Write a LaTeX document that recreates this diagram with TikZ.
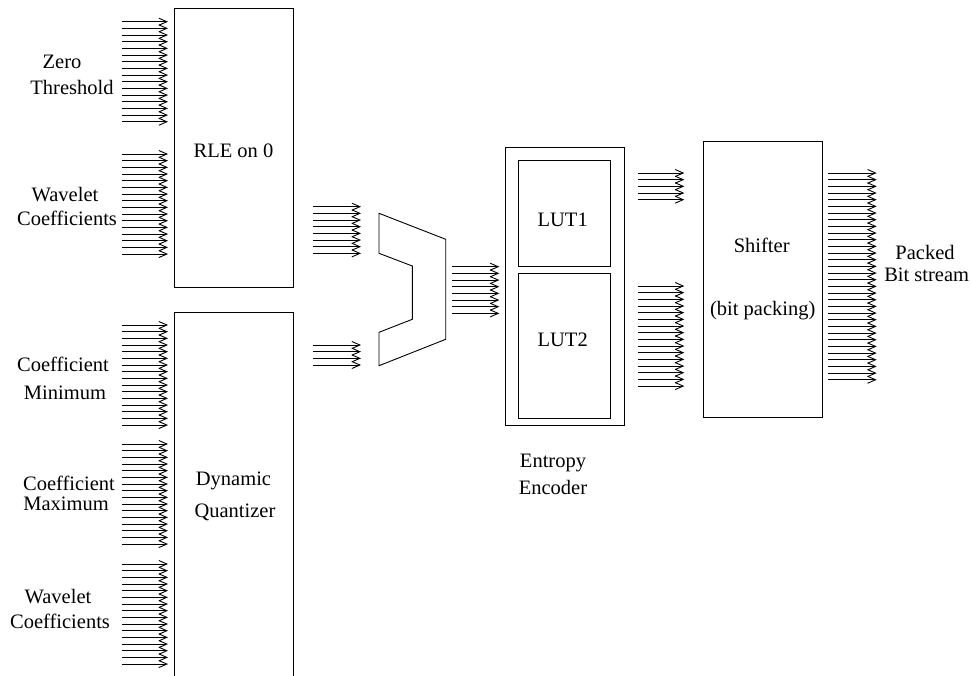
\documentclass[tikz,border=0pt]{standalone}
\usepackage{fontspec}
\setmainfont{Liberation Serif}
\usetikzlibrary{arrows.meta}
\tikzset{
  bus/.style={-{Straight Barb[length=8pt,width=7pt]}, line width=0.9pt},
  blk/.style={draw, line width=0.9pt, inner sep=0pt, outer sep=0pt},
  lbl/.style={anchor=base, inner sep=0pt, font=\fontsize{20.5}{24}\selectfont},
}
\newcommand\busarrows[4]{%
  \foreach \i in {1,...,#4} {\draw[bus] (#1,{#3+(\i-1)*6.67}) -- (#2,{#3+(\i-1)*6.67});}}
\begin{document}
\begin{tikzpicture}[x=1pt,y=-1pt]
\useasboundingbox (0,0) rectangle (971,675);
\clip (0,0) rectangle (971,675);
% blocks
\node[blk, minimum width=119pt, minimum height=278.7pt] (rle) at (233.5,147.65) {};
\node[blk, minimum width=119pt, minimum height=387.3pt] (dq) at (233.5,506.35) {};
\node[blk, minimum width=119.3pt, minimum height=277.7pt] (ent) at (564.65,286.15) {};
\node[blk, minimum width=92.4pt, minimum height=105.6pt] (lut1) at (564.5,213.5) {};
\node[blk, minimum width=92.4pt, minimum height=145pt] (lut2) at (564.5,345.8) {};
\node[blk, minimum width=119pt, minimum height=276.3pt] (shf) at (762.8,279.15) {};
% multiplexer
\coordinate (mux) at (412,289.5);
\draw[line width=0.9pt] (379,213.3) -- (445.7,239.3) -- (445.7,339.3) -- (379,365.7)
  -- (379,332.3) -- (412.3,319.3) -- (412.3,266) -- (379,253.3) -- cycle;
% buses
\busarrows{121.7}{168}{21.7}{16}
\busarrows{121.7}{168}{154}{16}
\busarrows{121.7}{168}{325}{16}
\busarrows{121.7}{168}{444}{16}
\busarrows{121.7}{168}{564}{16}
\busarrows{313}{361}{206.7}{8}
\busarrows{313}{361}{345}{4}
\busarrows{452.3}{499.3}{266.7}{8}
\busarrows{637.7}{684.3}{173}{5}
\busarrows{637.7}{684.3}{286}{16}
\busarrows{828.3}{876.7}{173}{32}
% labels
\node[lbl] (t1) at (62,68.3) {Zero};
\node[lbl] (t2) at (72,94) {Threshold};
\node[lbl] (t3) at (65,201.5) {Wavelet};
\node[lbl] (t4) at (67,225.5) {Coefficients};
\node[lbl] (t5) at (63,371.7) {Coefficient};
\node[lbl] (t6) at (65,399) {Minimum};
\node[lbl] (t7) at (69,490.7) {Coefficient};
\node[lbl] (t8) at (66,510) {Maximum};
\node[lbl] (t9) at (58,603.3) {Wavelet};
\node[lbl] (t10) at (60,628.3) {Coefficients};
\node[lbl] (rlet) at (233.5,157) {RLE on 0};
\node[lbl] (dqt1) at (233.5,485) {Dynamic};
\node[lbl] (dqt2) at (235,517.3) {Quantizer};
\node[lbl] (l1t) at (562.7,226.7) {LUT1};
\node[lbl] (l2t) at (562.7,346.7) {LUT2};
\node[lbl] (en1) at (553,467) {Entropy};
\node[lbl] (en2) at (553,494) {Encoder};
\node[lbl] (sh1) at (761.7,252.7) {Shifter};
\node[lbl] (sh2) at (762.7,315) {(bit packing)};
\node[lbl] (pb1) at (925,259) {Packed};
\node[lbl] (pb2) at (926.7,281.7) {Bit stream};
\end{tikzpicture}
\end{document}
